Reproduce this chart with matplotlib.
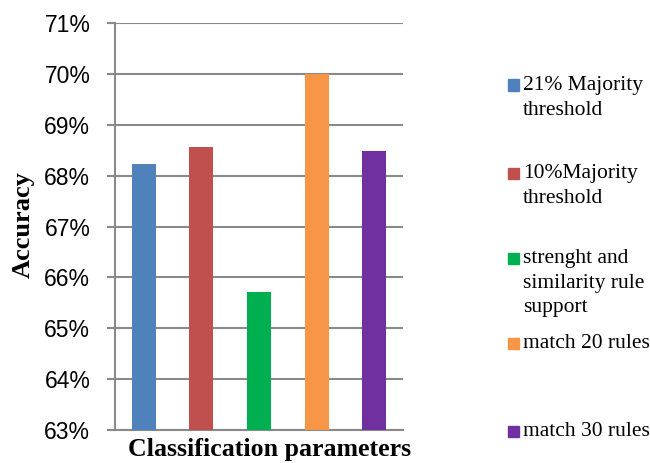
import matplotlib.pyplot as plt
from matplotlib.patches import Rectangle
from matplotlib.ticker import FuncFormatter, MultipleLocator

# accuracy (%) per classification setting
labels = [
    "21% Majority\nthreshold",
    "10%Majority\nthreshold",
    "strenght and\nsimilarity rule\nsupport",
    "match 20 rules",
    "match 30 rules",
]
accuracy = [68.22, 68.57, 65.71, 70.0, 68.49]
colors = ["#4F81BD", "#C0504D", "#00B050", "#F79646", "#7030A0"]
legend_y = [85, 173, 258, 343, 431]   # pixel rows of the legend keys

W, H = 650, 463
fig = plt.figure(figsize=(W / 100, H / 100), dpi=100)
ax = fig.add_axes([115 / W, 1 - 430 / H, (403 - 115) / W, (430 - 23) / H])

x = range(len(accuracy))
ax.bar(x, accuracy, width=0.42, color=colors, zorder=3)

ax.set_ylim(63, 71)
ax.set_xlim(-0.5, len(accuracy) - 0.5)
ax.yaxis.set_major_locator(MultipleLocator(1))
ax.yaxis.set_major_formatter(FuncFormatter(lambda v, _: f"{v:.0f}%"))
ax.set_xticks([])

grid_c = "#898989"
ax.grid(axis="y", color=grid_c, linewidth=1.5, zorder=0)
for s in ("top", "right"):
    ax.spines[s].set_visible(False)
for s in ("left", "bottom"):
    ax.spines[s].set_color(grid_c)
    ax.spines[s].set_linewidth(1.5)
ax.tick_params(axis="y", length=5.8, width=1.5, color=grid_c, pad=12,
               labelsize=16.5, labelfontfamily="Liberation Sans")

fig.text(23 / W, 1 - 225 / H, "Accuracy", rotation=90, ha="center", va="center",
         fontfamily="Liberation Serif", fontweight="bold", fontsize=19)
fig.text(269.5 / W, 1 - 456 / H, "Classification parameters", ha="center",
         va="baseline", fontfamily="Liberation Serif", fontweight="bold",
         fontsize=18.6)

# legend drawn by hand so the keys sit where they should
for lab, c, yp in zip(labels, colors, legend_y):
    fig.patches.append(Rectangle((508 / W, 1 - (yp + 5.5) / H), 11 / W, 11 / H,
                                 transform=fig.transFigure, color=c))
    fig.text(523 / W, 1 - (yp - 9) / H, lab, fontfamily="Liberation Serif",
             fontsize=15.5, va="top", ha="left", linespacing=1.4)

fig.savefig("out.png", dpi=100)
